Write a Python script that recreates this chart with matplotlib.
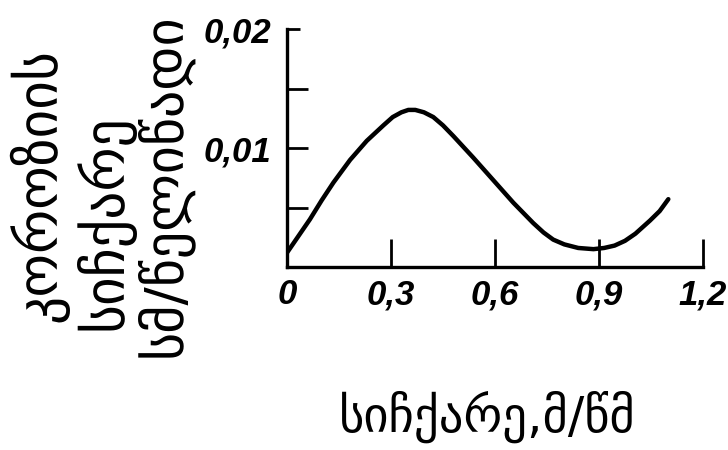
import numpy as np
import matplotlib
matplotlib.use("Agg")
import matplotlib.pyplot as plt

# velocity (m/s) vs corrosion rate
speed = [0.0, 0.033, 0.066, 0.100, 0.134, 0.182, 0.230, 0.278, 0.305, 0.330, 0.350,
         0.370, 0.395, 0.422, 0.450, 0.480, 0.537, 0.595, 0.653, 0.710, 0.740,
         0.768, 0.800, 0.840, 0.884, 0.915, 0.945, 0.975, 1.005, 1.047, 1.075, 1.100]
rate = [0.0012, 0.0026, 0.0040, 0.0056, 0.0071, 0.0090, 0.0106, 0.0119, 0.0126, 0.0130, 0.0132,
        0.0132, 0.0130, 0.0126, 0.0119, 0.0110, 0.0092, 0.0073, 0.0054, 0.0037, 0.0029,
        0.0023, 0.0019, 0.0016, 0.0015, 0.0016, 0.0018, 0.0022, 0.0028, 0.0039, 0.0047, 0.0057]

xticks = [0, 0.3, 0.6, 0.9, 1.2]
xlabels = ["0", "0,3", "0,6", "0,9", "1,2"]
yticks = [0.005, 0.01, 0.015]
ylabels = ["", "0,01", ""]

fig = plt.figure(figsize=(7.28, 4.5), dpi=100)
ax = fig.add_axes([287 / 728, 1 - 267 / 450, 416 / 728, 238 / 450])

ax.plot(speed, rate, color="black", lw=3.2, solid_capstyle="round", solid_joinstyle="round")

ax.set_xlim(0, 1.2)
ax.set_ylim(0, 0.02)
for s in ["top", "right"]:
    ax.spines[s].set_visible(False)
for s in ["left", "bottom"]:
    ax.spines[s].set_linewidth(2.4)

tick_font = dict(fontsize=25, fontweight="bold", style="italic",
                 family=["Liberation Sans", "DejaVu Sans"])
ax.set_xticks(xticks)
ax.set_xticklabels(xlabels, **tick_font)
ax.set_yticks(yticks)
ax.set_yticklabels(ylabels, **tick_font)
ax.tick_params(axis="x", direction="in", length=20, width=2.0, pad=8)
ax.tick_params(axis="y", direction="in", length=15, width=2.0, pad=11)
# short tick at the top with its label
ax.set_yticks([0.02], minor=True)
ax.set_yticklabels(["0,02"], minor=True, **tick_font)
ax.tick_params(axis="y", which="minor", direction="in", length=9, width=2.0, pad=11)

fig.text(487 / 728, 1 - 417 / 450, "სიჩქარე,მ/წმ", fontsize=35,
         ha="center", va="center")

fig.text(38 / 728, 1 - 185 / 450, "კოროზიის", rotation=90, fontsize=40,
         ha="center", va="center")
fig.text(104 / 728, 1 - 222 / 450, "სიჩქარე", rotation=90, fontsize=40,
         ha="center", va="center")
fig.text(164 / 728, 1 - 185 / 450, "სმ/წელიწადი", rotation=90, fontsize=39,
         ha="center", va="center")

fig.savefig("out.png", dpi=100)
